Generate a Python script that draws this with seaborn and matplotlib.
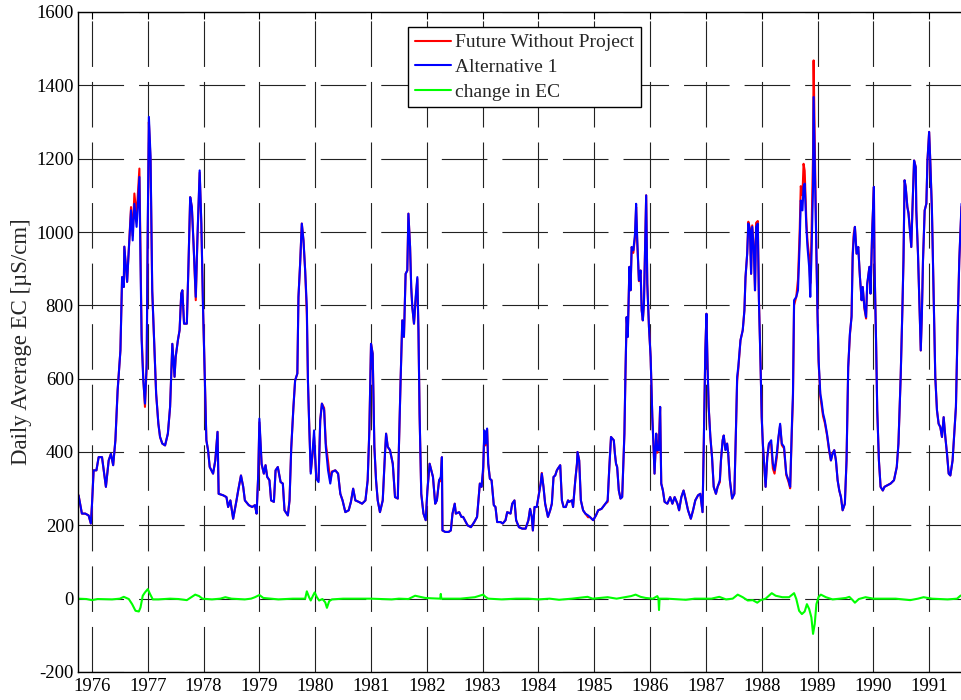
import matplotlib
matplotlib.use("Agg")
import matplotlib.pyplot as plt
import pandas as pd
import seaborn as sns

# ---------------- data ----------------
dates = [
    1975.76, 1975.82, 1975.88, 1975.94, 1975.98, 1976.00, 1976.03, 1976.08, 1976.12, 1976.18,
    1976.25, 1976.30, 1976.34, 1976.38, 1976.42, 1976.46, 1976.51, 1976.54, 1976.57, 1976.58,
    1976.63, 1976.65, 1976.70, 1976.73, 1976.76, 1976.80, 1976.85, 1976.87, 1976.89, 1976.92,
    1976.95, 1976.98,
    1977.00, 1977.02, 1977.05, 1977.08, 1977.12, 1977.15, 1977.19, 1977.22, 1977.26, 1977.31,
    1977.36, 1977.40, 1977.44, 1977.48, 1977.50, 1977.54, 1977.57, 1977.60, 1977.62, 1977.65,
    1977.70, 1977.73, 1977.76, 1977.79, 1977.82, 1977.86, 1977.89, 1977.93, 1977.96, 1977.99,
    1978.02, 1978.05, 1978.08, 1978.11, 1978.17, 1978.21, 1978.25, 1978.27, 1978.35, 1978.41,
    1978.44, 1978.48, 1978.53, 1978.59, 1978.62, 1978.67, 1978.71, 1978.74, 1978.81, 1978.87,
    1978.92, 1978.95, 1978.98,
    1979.00, 1979.04, 1979.08, 1979.11, 1979.14, 1979.18, 1979.21, 1979.26, 1979.29, 1979.33,
    1979.38, 1979.42, 1979.45, 1979.51, 1979.54, 1979.57, 1979.61, 1979.64, 1979.68, 1979.70,
    1979.73, 1979.76, 1979.79, 1979.82, 1979.85, 1979.87, 1979.89, 1979.92, 1979.95, 1979.98,
    1980.00, 1980.02, 1980.06, 1980.09, 1980.12, 1980.16, 1980.19, 1980.23, 1980.27, 1980.30,
    1980.36, 1980.41, 1980.45, 1980.49, 1980.54, 1980.60, 1980.64, 1980.68, 1980.72, 1980.78,
    1980.84, 1980.90, 1980.94, 1980.97,
    1981.00, 1981.03, 1981.06, 1981.09, 1981.12, 1981.16, 1981.21, 1981.25, 1981.27, 1981.30,
    1981.34, 1981.39, 1981.43, 1981.48, 1981.50, 1981.53, 1981.56, 1981.59, 1981.62, 1981.65,
    1981.67, 1981.70, 1981.72, 1981.74, 1981.77, 1981.80, 1981.83, 1981.85, 1981.87, 1981.90,
    1981.94, 1981.98,
    1982.01, 1982.05, 1982.08, 1982.11, 1982.15, 1982.18, 1982.22, 1982.25, 1982.27, 1982.28,
    1982.33, 1982.39, 1982.43, 1982.46, 1982.50, 1982.52, 1982.58, 1982.62, 1982.65, 1982.73,
    1982.79, 1982.85, 1982.90, 1982.95, 1982.98,
    1983.01, 1983.03, 1983.05, 1983.08, 1983.10, 1983.13, 1983.16, 1983.20, 1983.23, 1983.26,
    1983.32, 1983.36, 1983.41, 1983.44, 1983.50, 1983.53, 1983.57, 1983.60, 1983.65, 1983.71,
    1983.77, 1983.82, 1983.85, 1983.88, 1983.90, 1983.93, 1983.97,
    1984.01, 1984.04, 1984.06, 1984.09, 1984.12, 1984.17, 1984.21, 1984.24, 1984.27, 1984.30,
    1984.33, 1984.35, 1984.39, 1984.42, 1984.45, 1984.49, 1984.53, 1984.55, 1984.60, 1984.62,
    1984.66, 1984.69, 1984.70, 1984.73, 1984.76, 1984.80, 1984.84, 1984.89, 1984.92, 1984.98,
    1985.03, 1985.07, 1985.13, 1985.20, 1985.24, 1985.27, 1985.30, 1985.35, 1985.37, 1985.39,
    1985.41, 1985.44, 1985.47, 1985.50, 1985.54, 1985.56, 1985.58, 1985.60, 1985.63, 1985.65,
    1985.67, 1985.70, 1985.73, 1985.75, 1985.77, 1985.80, 1985.83, 1985.85, 1985.87, 1985.89,
    1985.93, 1985.95, 1985.98,
    1986.01, 1986.04, 1986.06, 1986.08, 1986.11, 1986.13, 1986.16, 1986.18, 1986.20, 1986.23,
    1986.26, 1986.31, 1986.36, 1986.40, 1986.44, 1986.49, 1986.52, 1986.56, 1986.60, 1986.64,
    1986.68, 1986.73, 1986.77, 1986.81, 1986.86, 1986.90, 1986.94, 1986.96, 1986.99,
    1987.01, 1987.03, 1987.05, 1987.08, 1987.11, 1987.14, 1987.18, 1987.21, 1987.25, 1987.27,
    1987.30, 1987.32, 1987.35, 1987.38, 1987.40, 1987.43, 1987.47, 1987.51, 1987.54, 1987.56,
    1987.58, 1987.62, 1987.66, 1987.69, 1987.71, 1987.74, 1987.76, 1987.79, 1987.81, 1987.83,
    1987.86, 1987.88, 1987.90, 1987.93, 1987.95, 1987.98,
    1988.00, 1988.02, 1988.04, 1988.07, 1988.10, 1988.13, 1988.17, 1988.20, 1988.23, 1988.27,
    1988.30, 1988.33, 1988.36, 1988.40, 1988.44, 1988.48, 1988.51, 1988.54, 1988.56, 1988.58,
    1988.62, 1988.65, 1988.68, 1988.70, 1988.73, 1988.75, 1988.77, 1988.80, 1988.82, 1988.85,
    1988.87, 1988.89, 1988.92, 1988.93, 1988.95, 1988.98,
    1989.00, 1989.02, 1989.05, 1989.07, 1989.10, 1989.13, 1989.17, 1989.21, 1989.24, 1989.27,
    1989.30, 1989.33, 1989.36, 1989.39, 1989.42, 1989.45, 1989.49, 1989.52, 1989.55, 1989.58,
    1989.61, 1989.63, 1989.65, 1989.67, 1989.70, 1989.73, 1989.76, 1989.79, 1989.81, 1989.84,
    1989.87, 1989.89, 1989.93, 1989.95, 1989.98,
    1990.01, 1990.02, 1990.05, 1990.07, 1990.10, 1990.13, 1990.17, 1990.20, 1990.25, 1990.31,
    1990.37, 1990.42, 1990.45, 1990.49, 1990.52, 1990.54, 1990.56, 1990.58, 1990.61, 1990.63,
    1990.65, 1990.68, 1990.70, 1990.73, 1990.76, 1990.77, 1990.80, 1990.82, 1990.85, 1990.87,
    1990.89, 1990.92, 1990.95, 1990.97,
    1991.00, 1991.02, 1991.05, 1991.08, 1991.11, 1991.14, 1991.17, 1991.20, 1991.23, 1991.26,
    1991.29, 1991.32, 1991.35, 1991.38, 1991.42, 1991.45, 1991.48, 1991.51, 1991.54, 1991.58,
    1991.62,
]

alt1_ec = [
    282, 232, 232, 227, 205, 255, 350, 350, 386, 386,
    305, 377, 395, 364, 432, 568, 677, 877, 850, 960,
    864, 923, 1059, 977, 1077, 1014, 1150, 914, 705, 595,
    532, 641,
    1023, 1314, 1205, 841, 677, 559, 477, 441, 423, 418,
    450, 523, 695, 605, 659, 705, 732, 832, 841, 750,
    750, 914, 1095, 1068, 968, 823, 986, 1168, 1023, 795,
    614, 432, 405, 359, 341, 377, 455, 286, 282, 277,
    250, 268, 218, 268, 295, 336, 305, 268, 255, 250,
    255, 232, 341,
    491, 368, 341, 364, 332, 323, 268, 264, 350, 359,
    318, 314, 241, 227, 268, 409, 523, 595, 614, 823,
    914, 1023, 977, 895, 795, 595, 486, 341, 395, 459,
    386, 327, 318, 486, 532, 514, 414, 350, 314, 345,
    350, 341, 286, 268, 236, 241, 264, 300, 268, 264,
    259, 268, 323, 459,
    695, 668, 414, 323, 268, 236, 268, 395, 450, 414,
    405, 368, 277, 273, 414, 595, 759, 714, 886, 895,
    1050, 959, 850, 795, 750, 823, 877, 732, 505, 286,
    232, 214,
    295, 368, 350, 332, 259, 268, 323, 332, 386, 186,
    182, 182, 186, 232, 259, 232, 236, 223, 223, 200,
    195, 209, 223, 314, 305,
    359, 459, 423, 464, 368, 327, 323, 255, 250, 209,
    209, 205, 214, 236, 232, 259, 268, 214, 195, 191,
    191, 214, 245, 223, 186, 250, 250,
    286, 314, 341, 305, 259, 223, 241, 259, 332, 336,
    350, 355, 364, 268, 250, 250, 268, 264, 268, 250,
    323, 368, 400, 377, 268, 241, 232, 227, 223, 214,
    227, 241, 245, 259, 268, 359, 441, 432, 395, 368,
    359, 295, 273, 277, 450, 623, 768, 714, 905, 841,
    959, 950, 995, 1077, 977, 868, 895, 786, 759, 805,
    1100, 859, 741,
    659, 495, 423, 341, 450, 405, 405, 523, 314, 295,
    264, 259, 277, 259, 277, 259, 241, 277, 295, 268,
    241, 218, 241, 268, 282, 286, 236, 405, 677,
    777, 632, 523, 441, 386, 305, 286, 305, 323, 377,
    432, 445, 405, 423, 395, 323, 273, 286, 468, 605,
    632, 705, 732, 786, 877, 941, 1023, 1005, 886, 1014,
    950, 841, 1014, 1023, 814, 632,
    495, 423, 377, 305, 386, 423, 432, 368, 350, 395,
    441, 477, 423, 414, 341, 323, 305, 468, 559, 814,
    823, 841, 968, 1086, 1059, 1123, 1132, 1014, 959, 905,
    823, 923, 1123, 1368, 1195, 923,
    777, 650, 559, 541, 505, 486, 450, 405, 377, 395,
    405, 377, 323, 295, 277, 241, 259, 377, 632, 723,
    768, 932, 986, 1014, 941, 959, 877, 814, 850, 795,
    768, 859, 905, 832, 1005,
    1123, 923, 695, 514, 377, 305, 295, 305, 309, 314,
    323, 359, 423, 605, 786, 923, 1141, 1123, 1068, 1050,
    1014, 959, 1059, 1195, 1177, 1059, 941, 832, 677, 777,
    923, 1059, 1077, 1195,
    1273, 1195, 1059, 832, 605, 514, 477, 468, 441, 495,
    441, 395, 341, 336, 377, 450, 523, 741, 923, 1077,
    1080,
]

fwop_ec = [
    282, 232, 232, 227, 205, 255, 350, 350, 386, 386,
    305, 377, 395, 364, 432, 568, 677, 877, 850, 960,
    864, 923, 1068, 990, 1105, 1045, 1173, 935, 720, 600,
    523, 630,
    1000, 1300, 1195, 838, 677, 559, 477, 441, 423, 418,
    450, 523, 695, 605, 659, 705, 732, 832, 841, 750,
    750, 914, 1095, 1068, 968, 814, 980, 1162, 1020, 795,
    614, 432, 405, 359, 341, 377, 455, 286, 282, 277,
    250, 268, 218, 268, 295, 336, 305, 268, 255, 250,
    255, 232, 341,
    481, 366, 341, 364, 332, 323, 268, 264, 350, 359,
    318, 314, 241, 227, 268, 409, 523, 595, 614, 823,
    914, 1023, 977, 895, 775, 591, 488, 346, 388, 442,
    382, 329, 323, 487, 532, 520, 424, 375, 321, 347,
    350, 341, 286, 268, 236, 241, 264, 300, 268, 264,
    259, 268, 323, 459,
    695, 668, 414, 323, 268, 236, 268, 395, 450, 414,
    405, 368, 277, 273, 414, 595, 759, 714, 886, 895,
    1050, 959, 850, 795, 750, 815, 872, 730, 503, 286,
    232, 214,
    295, 368, 350, 332, 259, 268, 323, 320, 386, 186,
    182, 182, 186, 232, 259, 232, 236, 223, 223, 200,
    195, 209, 223, 314, 305,
    348, 452, 418, 462, 368, 327, 323, 255, 250, 209,
    209, 205, 214, 236, 232, 259, 268, 214, 195, 191,
    191, 214, 245, 223, 186, 250, 250,
    288, 316, 343, 305, 259, 223, 241, 259, 332, 336,
    350, 355, 364, 268, 250, 250, 268, 264, 268, 250,
    323, 368, 400, 377, 268, 241, 232, 222, 223, 214,
    227, 241, 245, 259, 264, 359, 441, 432, 395, 368,
    359, 295, 273, 277, 450, 623, 768, 714, 905, 841,
    959, 943, 985, 1068, 972, 866, 895, 786, 759, 805,
    1100, 859, 741,
    659, 495, 423, 341, 450, 398, 436, 523, 314, 295,
    264, 259, 277, 259, 277, 259, 241, 277, 295, 271,
    241, 218, 241, 268, 282, 286, 236, 405, 677,
    777, 632, 523, 441, 386, 305, 286, 305, 318, 377,
    432, 445, 407, 423, 395, 323, 273, 286, 468, 594,
    625, 705, 732, 786, 877, 941, 1028, 1009, 886, 1018,
    954, 841, 1025, 1030, 818, 636,
    495, 423, 377, 305, 386, 423, 420, 355, 341, 385,
    437, 473, 419, 410, 337, 319, 301, 455, 545, 800,
    824, 870, 1000, 1125, 1100, 1186, 1167, 1030, 975, 932,
    860, 975, 1215, 1468, 1260, 940,
    777, 645, 552, 530, 497, 480, 446, 401, 377, 397,
    405, 377, 323, 295, 277, 241, 259, 377, 630, 718,
    772, 943, 997, 1014, 941, 959, 877, 814, 850, 791,
    764, 855, 905, 832, 1005,
    1123, 923, 695, 514, 377, 305, 295, 305, 309, 314,
    323, 359, 423, 605, 786, 923, 1141, 1123, 1068, 1054,
    1018, 959, 1059, 1195, 1177, 1059, 941, 832, 677, 777,
    923, 1059, 1077, 1195,
    1273, 1195, 1059, 832, 605, 514, 477, 468, 441, 495,
    441, 395, 341, 336, 377, 450, 523, 741, 923, 1069,
    1069,
]

change_dates = [
    1975.75, 1975.90, 1976.00, 1976.10, 1976.36, 1976.50, 1976.57, 1976.66, 1976.72, 1976.78,
    1976.84, 1976.87, 1976.91, 1976.95, 1977.00, 1977.04, 1977.09, 1977.19, 1977.40, 1977.55,
    1977.70, 1977.76, 1977.85, 1977.92, 1977.98, 1978.15, 1978.30, 1978.39, 1978.50, 1978.74,
    1978.85, 1978.92, 1979.00, 1979.07, 1979.20, 1979.34, 1979.60, 1979.82, 1979.85, 1979.89,
    1979.92, 1979.96, 1979.99, 1980.03, 1980.07, 1980.13, 1980.18, 1980.21, 1980.25, 1980.30,
    1980.50, 1981.00, 1981.37, 1981.50, 1981.67, 1981.79, 1981.88, 1981.97, 1982.08, 1982.24,
    1982.25, 1982.26, 1982.60, 1982.86, 1983.01, 1983.05, 1983.10, 1983.34, 1983.60, 1983.82,
    1984.00, 1984.20, 1984.37, 1984.60, 1984.88, 1984.97, 1985.24, 1985.40, 1985.66, 1985.74,
    1985.83, 1985.92, 1986.05, 1986.13, 1986.15, 1986.16, 1986.17, 1986.30, 1986.64, 1986.80,
    1987.10, 1987.24, 1987.36, 1987.48, 1987.57, 1987.66, 1987.75, 1987.84, 1987.92, 1987.98,
    1988.07, 1988.18, 1988.25, 1988.37, 1988.49, 1988.58, 1988.62, 1988.67, 1988.72, 1988.77,
    1988.81, 1988.85, 1988.89, 1988.92, 1988.95, 1988.98, 1989.02, 1989.06, 1989.15, 1989.27,
    1989.40, 1989.51, 1989.57, 1989.63, 1989.67, 1989.74, 1989.86, 1990.00, 1990.40, 1990.66,
    1990.80, 1990.90, 1991.05, 1991.33, 1991.50, 1991.56, 1991.62,
]

change_ec = [
    0, -1, -4, -1, -2, 0, 5, -1, -15, -33,
    -35, -24, 8, 17, 26, 13, -2, -2, 0, -1,
    -4, 2, 11, 7, 0, -2, 0, 4, 0, -2,
    0, 4, 10, 2, 0, -2, 0, 0, 20, 4,
    -5, 8, 17, 4, -5, -1, -10, -25, -7, -2,
    0, 0, -2, 0, -1, 8, 5, 2, 1, 0,
    13, 0, 0, 4, 11, 5, 0, -2, 0, 0,
    -2, 0, -3, 0, 5, 0, 4, 0, 7, 11,
    5, 2, 0, 7, 0, -31, 0, 0, -3, 0,
    0, 5, -2, 0, 11, 4, -5, -4, -11, -4,
    0, 15, 8, 4, 4, 15, -1, -33, -42, -35,
    -15, -28, -51, -96, -69, -15, 5, 11, 4, -2,
    0, 2, 5, -4, -11, -1, 4, 0, 0, -4,
    0, 4, 0, -2, 0, 8, 11,
]

series_labels = ["Future Without Project", "Alternative 1", "change in EC"]
series_colors = ["#ff0000", "#0000ff", "#00ff00"]
year_ticks = list(range(1976, 1992))
ec_ticks = list(range(-200, 1601, 200))
y_label = "Daily Average EC [\u00b5S/cm]"

assert len(dates) == len(alt1_ec) == len(fwop_ec), (len(dates), len(alt1_ec), len(fwop_ec))
assert len(change_dates) == len(change_ec), (len(change_dates), len(change_ec))

# ---------------- plotting ----------------
sns.set_style("white")
plt.rcParams["font.family"] = ["Liberation Serif", "DejaVu Serif"]
plt.rcParams["axes.unicode_minus"] = False

fig = plt.figure(figsize=(9.62, 7.0), dpi=100)
W, H = 962.0, 700.0
ax = fig.add_axes([78 / W, 28 / H, 893 / W, 660 / H])

main_df = pd.DataFrame({"date": dates, "fwop": fwop_ec, "alt1": alt1_ec})
chg_df = pd.DataFrame({"date": change_dates, "change": change_ec})

sns.lineplot(data=main_df, x="date", y="fwop", color=series_colors[0], lw=1.5,
             estimator=None, sort=False, label=series_labels[0], ax=ax)
sns.lineplot(data=main_df, x="date", y="alt1", color=series_colors[1], lw=1.5,
             estimator=None, sort=False, label=series_labels[1], ax=ax)
sns.lineplot(data=chg_df, x="date", y="change", color=series_colors[2], lw=1.5,
             estimator=None, sort=False, label=series_labels[2], ax=ax)

ax.set_xlim(1975.75, 1991.75)
ax.set_ylim(-200, 1600)
ax.set_xticks(year_ticks)
ax.set_xticklabels([str(y) for y in year_ticks])
ax.set_yticks(ec_ticks)
ax.set_yticklabels([str(v) for v in ec_ticks])
ax.set_xlabel("")
ax.set_ylabel(y_label, fontsize=16.5)
ax.yaxis.set_label_coords(-0.052, 0.5)

ax.set_axisbelow(True)
ax.grid(True, color="#222222", lw=0.8, linestyle=(0, (41, 13.5)))
ax.tick_params(axis="both", direction="in", length=5, width=0.8,
               top=True, right=True, labelsize=13.5, colors="black")
ax.tick_params(axis="x", pad=4.5)
ax.tick_params(axis="y", pad=3)
for sp in ax.spines.values():
    sp.set_color("black")
    sp.set_linewidth(1.0)

leg = ax.legend(loc="upper left", bbox_to_anchor=(408 / W, 1 - 27 / H),
                bbox_transform=fig.transFigure, frameon=True, fancybox=False,
                edgecolor="black", framealpha=1, fontsize=14,
                handlelength=1.85, handletextpad=0.2, borderpad=0.35,
                labelspacing=0.36, borderaxespad=0)
leg.get_frame().set_linewidth(1.0)

fig.savefig("out.png", dpi=100)
